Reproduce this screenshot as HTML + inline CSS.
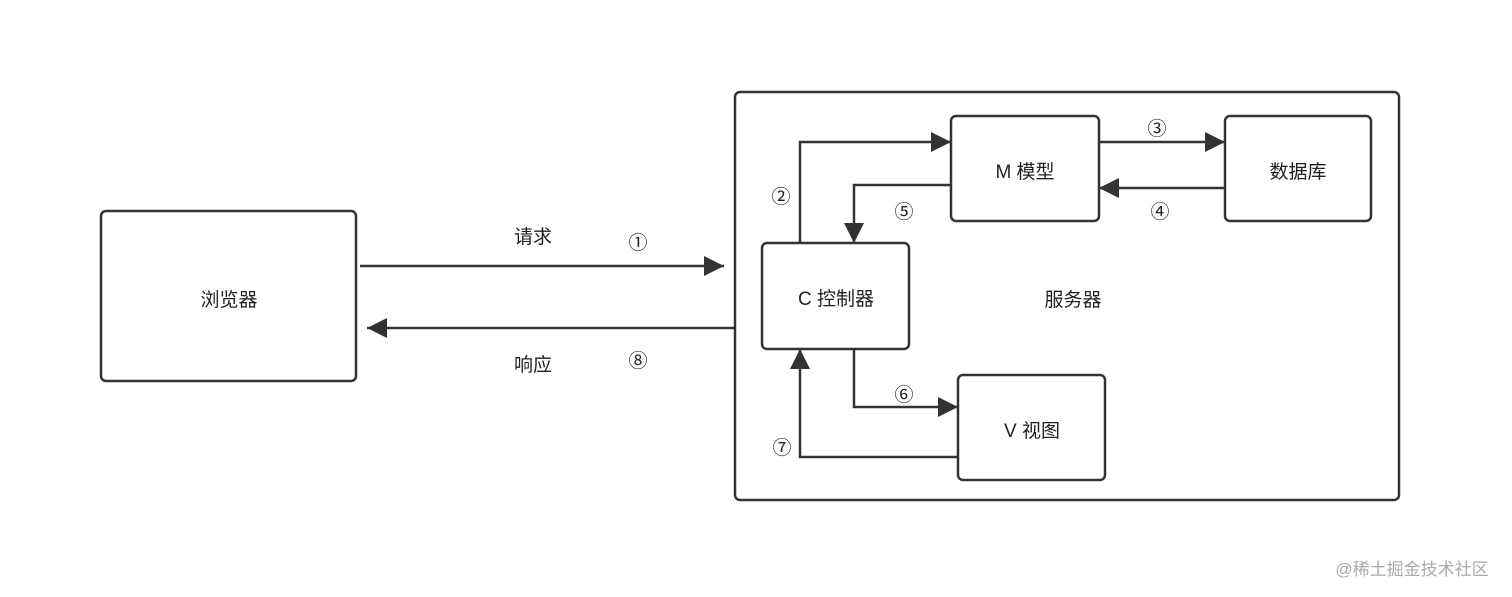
<!DOCTYPE html>
<html><head><meta charset="utf-8"><style>
html,body{margin:0;padding:0;background:#fff;}
svg{display:block;}
text{font-family:"Liberation Sans","Noto Sans CJK SC",sans-serif;fill:#222;font-size:19px;}
</style></head><body>
<svg width="1512" height="597" viewBox="0 0 1512 597">
<defs>
<marker id="a" viewBox="0 0 10 10" refX="10" refY="5" markerWidth="26" markerHeight="20" markerUnits="userSpaceOnUse" orient="auto">
<path d="M0,0 L10,5 L0,10 z" fill="#333"/></marker>
</defs>
<g fill="#fff" stroke="#333" stroke-width="2.5">
<rect x="101" y="211" width="255" height="170" rx="5"/>
<rect x="735" y="92" width="664" height="408" rx="5"/>
<rect x="951" y="116" width="148" height="105" rx="5"/>
<rect x="1225" y="116" width="146" height="105" rx="5"/>
<rect x="762" y="243" width="147" height="106" rx="5"/>
<rect x="958" y="375" width="147" height="105" rx="5"/>
</g>
<g fill="none" stroke="#333" stroke-width="2.5">
<path d="M360,266 H724" marker-end="url(#a)"/>
<path d="M735,328 H367" marker-end="url(#a)"/>
<path d="M800,243 V142 H951" marker-end="url(#a)"/>
<path d="M951,185 H854 V243" marker-end="url(#a)"/>
<path d="M1099,142 H1225" marker-end="url(#a)"/>
<path d="M1225,188 H1099" marker-end="url(#a)"/>
<path d="M854,349 V407 H958" marker-end="url(#a)"/>
<path d="M958,457 H800 V349" marker-end="url(#a)"/>
</g>
<g text-anchor="middle">
<text x="229" y="306">浏览器</text>
<text x="533" y="243">请求</text>
<text x="638" y="249">①</text>
<text x="533" y="371">响应</text>
<text x="638" y="367">⑧</text>
<text x="1025" y="178">M 模型</text>
<text x="1298" y="178">数据库</text>
<text x="836" y="305">C 控制器</text>
<text x="1073" y="306">服务器</text>
<text x="1032" y="437">V 视图</text>
<text x="781" y="203">②</text>
<text x="904" y="218">⑤</text>
<text x="1157" y="135">③</text>
<text x="1160" y="218">④</text>
<text x="904" y="401">⑥</text>
<text x="782" y="454">⑦</text>
<text x="1412" y="575" style="fill:#aaa;font-size:17px">@稀土掘金技术社区</text>
</g>
</svg>
</body></html>
